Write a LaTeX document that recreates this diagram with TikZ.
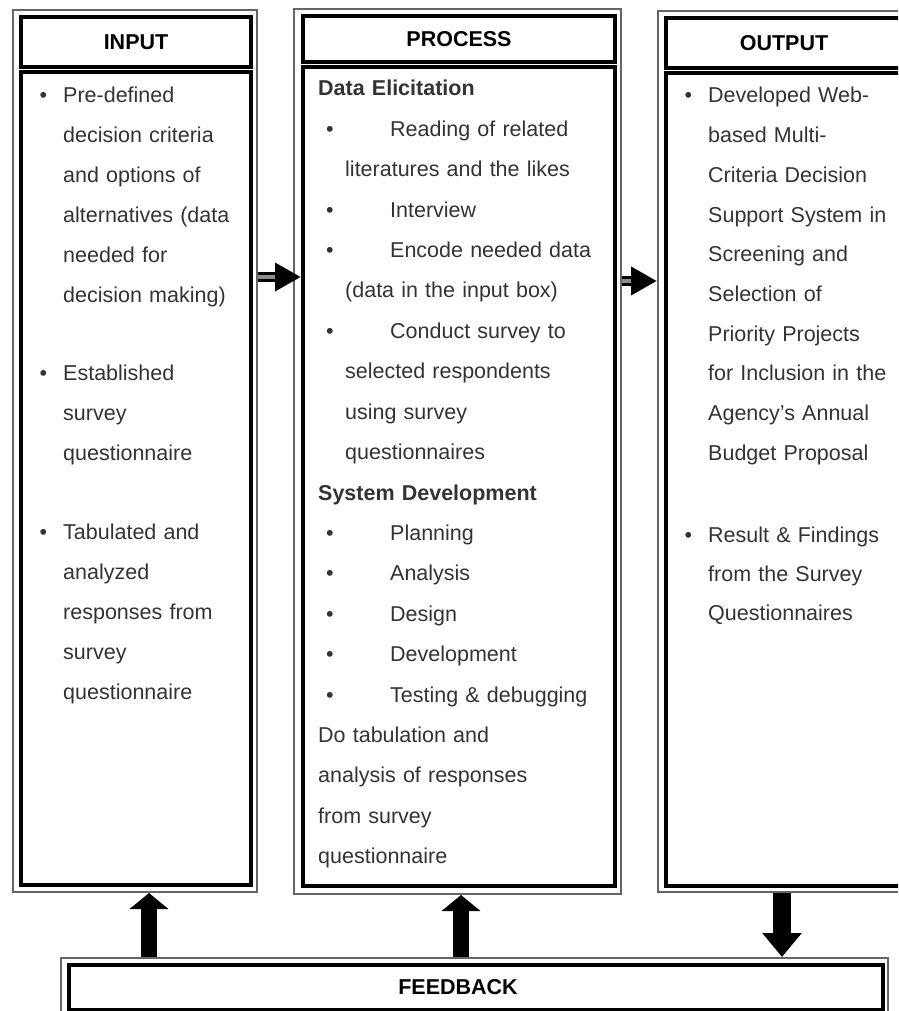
\documentclass[tikz,border=0pt]{standalone}
\usepackage{fontspec}
\setmainfont{Liberation Sans}
\usetikzlibrary{arrows.meta}

\newcommand{\ibul}{\llap{\textbullet\hspace{16pt}}}
\newcommand{\pbul}{\makebox[72pt][l]{\hspace*{8pt}\textbullet}}
\newcommand{\cont}{\hspace*{27pt}}

\begin{document}
\begin{tikzpicture}[x=1pt,y=-1pt,
 outer/.style={draw=black!60,line width=2pt,inner sep=0pt,anchor=north west},
 inner/.style={draw=black,line width=4pt,inner sep=0pt,anchor=north west},
 headbox/.style={inner,font=\fontsize{21.5}{26}\selectfont\bfseries},
 listtext/.style={inner sep=0pt,anchor=base west,text width=300pt,align=left,
  text=black!80,font=\fontsize{21.5}{40.4}\selectfont},
 flow/.style={line width=10pt,-{Triangle[length=26pt,width=27pt]}},
 flowcore/.style={line width=3.5pt,draw=black!45,shorten >=26pt},
 fbup/.style={line width=16pt,-{Triangle[length=16pt,width=38pt]}},
 fbdown/.style={line width=18pt,-{Triangle[length=24pt,width=38pt]}}]

\useasboundingbox (0,0) rectangle (898,1011);
\clip (0,0) rectangle (898,1011);

\begin{scope} %INPUT
 \node[outer,minimum width=244,minimum height=882] (inframe) at (12,9) {};
 \node[headbox,minimum width=230,minimum height=50] (inhead) at (19,15) {INPUT};
 \node[inner,minimum width=230,minimum height=813] (inbody) at (19,70) {};
 \node[listtext,font=\fontsize{21.5}{40}\selectfont] (in1) at (63,103)
  {\ibul Pre-defined\\decision criteria\\and options of\\alternatives (data\\needed for\\decision making)};
 \node[listtext,font=\fontsize{21.5}{40}\selectfont] (in2) at (63,380)
  {\ibul Established\\survey\\questionnaire};
 \node[listtext,font=\fontsize{21.5}{40}\selectfont] (in3) at (63,539)
  {\ibul Tabulated and\\analyzed\\responses from\\survey\\questionnaire};
\end{scope}

\begin{scope} %PROCESS
 \node[outer,minimum width=327,minimum height=885] (procframe) at (293,8) {};
 \node[headbox,minimum width=312,minimum height=46] (prochead) at (301,14) {PROCESS};
 \node[inner,minimum width=312,minimum height=819] (procbody) at (301,65) {};
 \node[listtext] (elicit) at (318,96)
  {\textbf{Data Elicitation}\\
   \pbul Reading of related\\
   \cont literatures and the likes\\
   \pbul Interview\\
   \pbul Encode needed data\\
   \cont (data in the input box)\\
   \pbul Conduct survey to\\
   \cont selected respondents\\
   \cont using survey\\
   \cont questionnaires};
 \node[listtext] (sysdev) at (318,500)
  {\textbf{System Development}\\
   \pbul Planning\\
   \pbul Analysis\\
   \pbul Design\\
   \pbul Development\\
   \pbul Testing \& debugging\\
   Do tabulation and\\
   analysis of responses\\
   from survey\\
   questionnaire};
\end{scope}

\begin{scope} %OUTPUT
 \node[outer,minimum width=248,minimum height=881] (outframe) at (657,10) {};
 \node[headbox,minimum width=236,minimum height=50] (outhead) at (664,16) {OUTPUT};
 \node[inner,minimum width=236,minimum height=813] (outbody) at (664,71) {};
 \node[listtext,font=\fontsize{21.5}{39.7}\selectfont] (out1) at (708,103)
  {\ibul Developed Web-\\based Multi-\\Criteria Decision\\Support System in\\Screening and\\Selection of\\Priority Projects\\for Inclusion in the\\Agency's Annual\\Budget Proposal};
 \node[listtext,font=\fontsize{21.5}{39}\selectfont] (out2) at (708,542)
  {\ibul Result \& Findings\\from the Survey\\Questionnaires};
\end{scope}

\begin{scope} %FEEDBACK
 \node[outer,minimum width=827,minimum height=58] (fb) at (60,957) {};
 \node[inner,minimum width=814,minimum height=45] (fbbody) at (67,963) {};
 \node[font=\fontsize{21.5}{26}\selectfont\bfseries] (fbtext) at ([xshift=-18pt]fbbody.center) {FEEDBACK};
\end{scope}

% arrows
\coordinate (row1) at (0,277);
\coordinate (row2) at (0,281);
\draw[flow] (inframe.east |- row1) -- (procbody.west |- row1);
\draw[flowcore] (inframe.east |- row1) -- (procbody.west |- row1);
\draw[flow] (procframe.east |- row2) -- (outframe.west |- row2);
\draw[flowcore] (procframe.east |- row2) -- (outframe.west |- row2);

\foreach \f/\s in {inframe/14,procframe/3.5}
 \draw[fbup] ([xshift=\s pt]\f.south |- fb.north) -- ([xshift=\s pt]\f.south);
\draw[fbdown] (outframe.south) -- (outframe.south |- fb.north);

\end{tikzpicture}
\end{document}
